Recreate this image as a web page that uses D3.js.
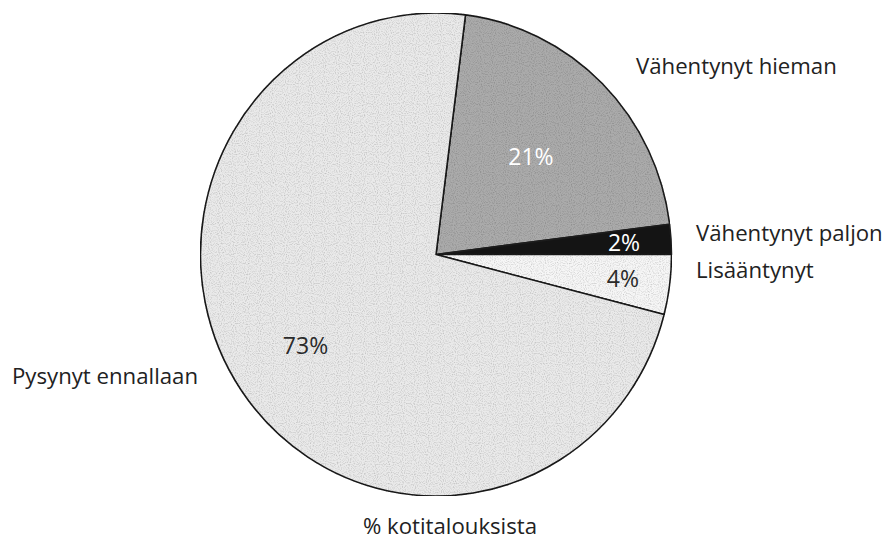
<!DOCTYPE html>
<html>
<head>
<meta charset="utf-8">
<script src="https://cdn.jsdelivr.net/npm/d3@7"></script>
<style>
  html, body { margin: 0; padding: 0; background: #fff; }
  svg { display: block; font-family: "Open Sans", "Noto Sans", sans-serif; }
</style>
</head>
<body>
<svg id="chart" width="895" height="545"></svg>
<script>
// Data
const categories = ["Vähentynyt hieman", "Vähentynyt paljon", "Lisääntynyt", "Pysynyt ennallaan"];
const shares = [21, 2, 4, 73];
const valueLabels = ["21%", "2%", "4%", "73%"];
const caption = "% kotitalouksista";

// Style / layout
const fills = ["#ababab", "#141414", "#f6f6f6", "#eaeaea"];
const valueColors = ["#ffffff", "#ffffff", "#2a2a2a", "#2a2a2a"];
const valueRadius = [0.57, 0.8, 0.8, 0.67];
const nameLayout = [
  { x: 636, y: 74, anchor: "start" },
  { x: 696, y: 241, anchor: "start" },
  { x: 696, y: 278, anchor: "start" },
  { x: 198, y: 384, anchor: "end" },
];

const cx = 436, cy = 254.5, r = 241.5, rx = 235.5;
const startAngle = 7.2 * Math.PI / 180;

const svg = d3.select("#chart");

// grainy print texture
const defs = svg.append("defs");
const filter = defs.append("filter").attr("id", "grain").attr("x", 0).attr("y", 0).attr("width", 1).attr("height", 1);
filter.append("feTurbulence").attr("type", "fractalNoise").attr("baseFrequency", 0.9).attr("numOctaves", 1).attr("seed", 3).attr("result", "noise");
filter.append("feColorMatrix").attr("in", "noise").attr("type", "matrix")
  .attr("values", "0 0 0 0 0  0 0 0 0 0  0 0 0 0 0  0 0 0 -0.9 0.5").attr("result", "dots");
filter.append("feComposite").attr("in", "dots").attr("in2", "SourceGraphic").attr("operator", "in").attr("result", "clipped");
filter.append("feMerge").selectAll("feMergeNode").data(["SourceGraphic", "clipped"]).join("feMergeNode").attr("in", (d) => d);

const data = categories.map((name, i) => ({ name, value: shares[i], i }));

const pie = d3.pie()
  .sort(null)
  .value((d) => d.value)
  .startAngle(startAngle)
  .endAngle(startAngle + 2 * Math.PI);

const arc = d3.arc().innerRadius(0).outerRadius(r);

const g = svg.append("g")
  .attr("transform", `translate(${cx}, ${cy}) scale(${rx / r}, 1)`);

const arcs = pie(data);

g.selectAll("path.slice")
  .data(arcs)
  .join("path")
  .attr("class", "slice")
  .attr("d", arc)
  .attr("fill", (d) => fills[d.data.i])
  .attr("filter", (d) => (d.data.i === 1 ? null : "url(#grain)"))
  .attr("stroke", "#1c1c1c")
  .attr("stroke-width", 1.6)
  .attr("stroke-linejoin", "round");

// percentage labels inside slices
svg.append("g")
  .selectAll("text")
  .data(arcs)
  .join("text")
  .attr("transform", (d) => {
    const a = (d.startAngle + d.endAngle) / 2;
    const k = valueRadius[d.data.i] * r;
    return `translate(${cx + Math.sin(a) * k * (rx / r)}, ${cy - Math.cos(a) * k})`;
  })
  .attr("text-anchor", "middle")
  .attr("dy", "0.36em")
  .attr("font-size", 23)
  .attr("fill", (d) => valueColors[d.data.i])
  .text((d) => valueLabels[d.data.i]);

// category names outside
svg.append("g")
  .selectAll("text")
  .data(data)
  .join("text")
  .attr("x", (d) => nameLayout[d.i].x)
  .attr("y", (d) => nameLayout[d.i].y)
  .attr("text-anchor", (d) => nameLayout[d.i].anchor)
  .attr("font-size", 22.2)
  .attr("fill", "#222")
  .text((d) => d.name);

svg.append("text")
  .attr("x", 450)
  .attr("y", 534)
  .attr("text-anchor", "middle")
  .attr("font-size", 22.2)
  .attr("fill", "#222")
  .text(caption);
</script>
</body>
</html>
